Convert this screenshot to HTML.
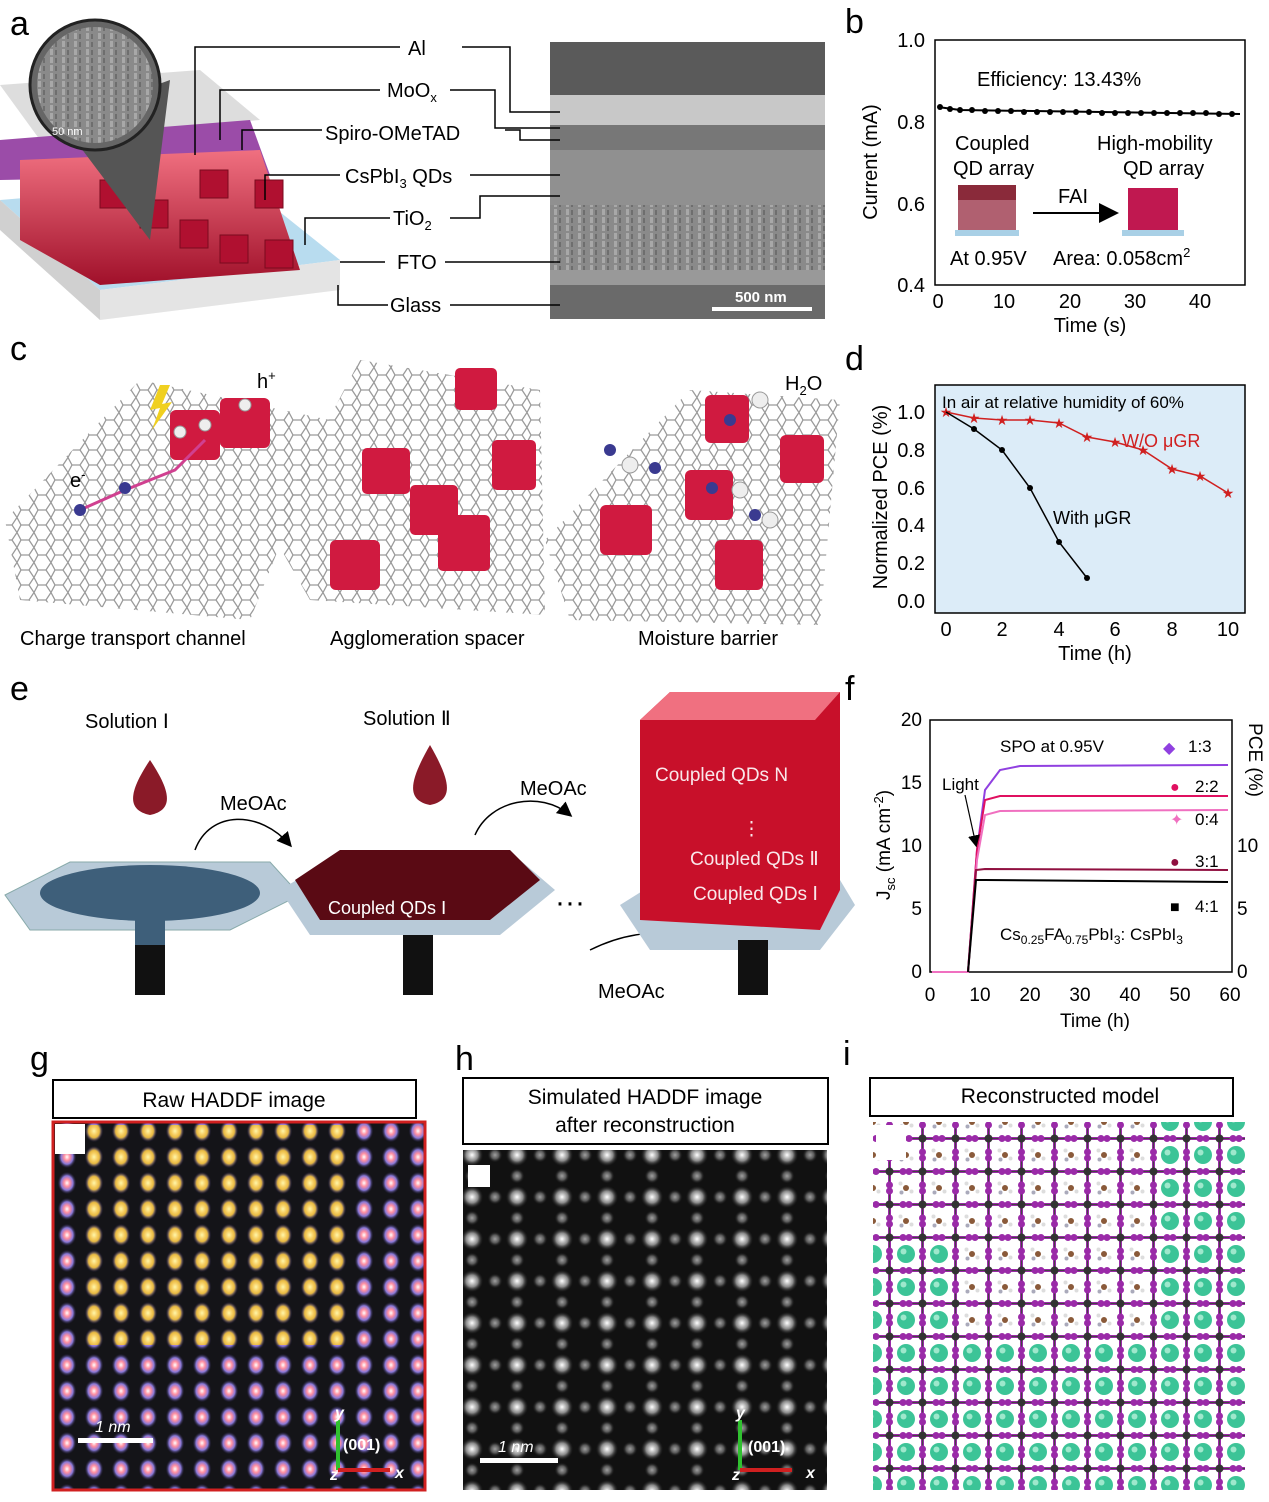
<!DOCTYPE html>
<html><head><meta charset="utf-8"><style>
html,body{margin:0;padding:0;background:#fff}
svg{display:block}
text{font-family:"Liberation Sans",sans-serif}
</style></head><body>
<svg width="1269" height="1502" viewBox="0 0 1269 1502" xmlns="http://www.w3.org/2000/svg">
<defs>
<pattern id="sem" width="12" height="8" patternUnits="userSpaceOnUse"><rect width="12" height="8" fill="#8a8a8a"/><rect x="2" y="1" width="3" height="6" fill="#a8a8a8"/><rect x="7" y="2" width="2" height="5" fill="#6e6e6e"/></pattern>
<pattern id="hex" width="17" height="15" patternUnits="userSpaceOnUse"><path d="M4 0 L12 0 L17 7.5 L12 15 L4 15 L0 7.5 Z" fill="none" stroke="#9a9a9a" stroke-width="1.3"/></pattern>
<radialGradient id="wd"><stop offset="0" stop-color="#fff"/><stop offset="0.5" stop-color="#888"/><stop offset="1" stop-color="#000" stop-opacity="0"/></radialGradient>
<pattern id="hpat" width="45" height="42" patternUnits="userSpaceOnUse"><rect width="45" height="42" fill="#111"/><circle cx="22" cy="21" r="12" fill="url(#wd)"/><circle cx="0" cy="21" r="8" fill="url(#wd)" opacity="0.6"/><circle cx="45" cy="21" r="8" fill="url(#wd)" opacity="0.6"/><circle cx="22" cy="0" r="8" fill="url(#wd)" opacity="0.6"/><circle cx="22" cy="42" r="8" fill="url(#wd)" opacity="0.6"/></pattern>
<radialGradient id="pd"><stop offset="0" stop-color="#fff"/><stop offset="0.3" stop-color="#ff8fa0"/><stop offset="0.6" stop-color="#8878d8"/><stop offset="1" stop-color="#000" stop-opacity="0"/></radialGradient>
<radialGradient id="yd"><stop offset="0" stop-color="#fff6a0"/><stop offset="0.6" stop-color="#f0c030"/><stop offset="1" stop-color="#000" stop-opacity="0"/></radialGradient>
<pattern id="gpat" width="27" height="26" patternUnits="userSpaceOnUse"><rect width="27" height="26" fill="#141418"/><ellipse cx="13" cy="13" rx="10" ry="12" fill="url(#pd)"/></pattern>
<pattern id="gy" width="27" height="26" patternUnits="userSpaceOnUse"><ellipse cx="13" cy="13" rx="9" ry="11" fill="url(#yd)"/></pattern>
<pattern id="ipat" width="33" height="33" patternUnits="userSpaceOnUse" x="873" y="1122"><rect width="33" height="33" fill="#fff"/><path d="M0 16.5H33M16.5 0V33" stroke="#9a2aa8" stroke-width="3"/><path d="M0 16.5H33M16.5 0V33" stroke="#444" stroke-width="1"/><circle cx="16.5" cy="16.5" r="4" fill="#333"/><circle cx="3" cy="16.5" r="3.5" fill="#9a2aa8"/><circle cx="16.5" cy="3" r="3.5" fill="#9a2aa8"/><circle cx="30" cy="16.5" r="3.5" fill="#9a2aa8"/><circle cx="16.5" cy="30" r="3.5" fill="#9a2aa8"/></pattern>
<pattern id="ball" width="33" height="33" patternUnits="userSpaceOnUse" x="889.5" y="1138.5"><circle cx="16.5" cy="16.5" r="9" fill="#3cc497"/><circle cx="14" cy="14" r="3" fill="#9ee8cc"/></pattern>
<pattern id="mol" width="33" height="33" patternUnits="userSpaceOnUse" x="889.5" y="1138.5"><circle cx="16.5" cy="16.5" r="3" fill="#8a5a3a"/><circle cx="11" cy="12" r="2" fill="#ddd"/><circle cx="22" cy="20" r="2" fill="#ddd"/><circle cx="12" cy="21" r="2" fill="#aab"/></pattern>
<clipPath id="ic"><rect x="873" y="1122" width="372" height="368"/></clipPath>
<linearGradient id="cube" x1="0" y1="0" x2="0" y2="1"><stop offset="0" stop-color="#f07080"/><stop offset="1" stop-color="#a0102a"/></linearGradient>
<marker id="ar" markerWidth="10" markerHeight="10" refX="8" refY="5" orient="auto"><path d="M0 0L10 5L0 10Z" fill="#000"/></marker>
</defs>

<!-- Panel a device -->
<polygon points="0,200 240,180 340,260 100,290" fill="#b8dcef"/>
<polygon points="0,200 100,290 100,320 0,230" fill="#d0d0d0"/>
<polygon points="100,290 340,260 340,290 100,320" fill="#e4e4e4"/>
<polygon points="0,85 200,70 260,120 40,140" fill="#ddd"/>
<polygon points="0,140 250,120 270,175 0,180" fill="#9b4ca8"/>
<polygon points="20,160 260,150 300,270 100,285 20,240" fill="url(#cube)"/>
<g fill="#b01030" stroke="#7a0a1e" stroke-width="1"><rect x="100" y="180" width="28" height="28"/><rect x="140" y="200" width="28" height="28"/><rect x="180" y="220" width="28" height="28"/><rect x="220" y="235" width="28" height="28"/><rect x="255" y="180" width="28" height="28"/><rect x="265" y="240" width="28" height="28"/><rect x="200" y="170" width="28" height="28"/></g>
<polygon points="60,120 170,80 150,240" fill="#555"/>
<circle cx="95" cy="85" r="65" fill="#666" stroke="#222" stroke-width="3"/>
<circle cx="95" cy="85" r="58" fill="url(#sem)"/>
<text x="52" y="135" font-size="11" fill="#fff">50 nm</text>
<!-- SEM -->
<rect x="550" y="42" width="275" height="277" fill="#5a5a5a"/>
<rect x="550" y="95" width="275" height="30" fill="#c8c8c8"/>
<rect x="550" y="125" width="275" height="25" fill="#777"/>
<rect x="550" y="150" width="275" height="55" fill="#909090"/>
<rect x="550" y="205" width="275" height="65" fill="url(#sem)"/>
<rect x="550" y="270" width="275" height="15" fill="#999"/>
<rect x="550" y="285" width="275" height="34" fill="#6a6a6a"/>
<rect x="712" y="307" width="100" height="4" fill="#fff"/>
<text x="735" y="302" font-size="15" font-weight="bold" fill="#fff">500 nm</text>
<g stroke="#000" stroke-width="1.5" fill="none">
<path d="M195 155V47H400M462 47H510V112H560"/>
<path d="M220 140V90H380M450 90H495V128H560"/>
<path d="M242 150V130H322M505 130H520V140H560"/>
<path d="M265 200V175H340M470 175H560"/>
<path d="M305 245V218H390M450 218H480V196H560"/>
<path d="M340 262H385M445 262H560"/>
<path d="M338 285V305H388M450 305H560"/>
</g>
<g font-size="20"><text x="408" y="55">Al</text><text x="387" y="97">MoO<tspan font-size="13" dy="5">x</tspan></text><text x="325" y="140">Spiro-OMeTAD</text><text x="345" y="183">CsPbI<tspan font-size="13" dy="5">3</tspan><tspan dy="-5"> QDs</tspan></text><text x="393" y="225">TiO<tspan font-size="13" dy="5">2</tspan></text><text x="397" y="269">FTO</text><text x="390" y="312">Glass</text></g>

<!-- Panel b -->
<rect x="935" y="40" width="310" height="245" fill="none" stroke="#000" stroke-width="1.5"/>
<g font-size="20" text-anchor="end"><text x="925" y="47">1.0</text><text x="925" y="129">0.8</text><text x="925" y="211">0.6</text><text x="925" y="292">0.4</text></g>
<g font-size="20" text-anchor="middle"><text x="938" y="308">0</text><text x="1004" y="308">10</text><text x="1070" y="308">20</text><text x="1135" y="308">30</text><text x="1200" y="308">40</text><text x="1090" y="332">Time (s)</text></g>
<text transform="translate(877,162) rotate(-90)" font-size="20" text-anchor="middle">Current (mA)</text>
<g stroke="#000"><path d="M938 107 L960 110 L1240 114" stroke-width="2" fill="none"/></g>
<g fill="#000"><circle cx="940" cy="107" r="3"/><circle cx="950" cy="109" r="3"/><circle cx="960" cy="110" r="3"/><circle cx="972" cy="110" r="3"/><circle cx="985" cy="111" r="3"/><circle cx="998" cy="111" r="3"/><circle cx="1011" cy="111" r="3"/><circle cx="1024" cy="112" r="3"/><circle cx="1037" cy="112" r="3"/><circle cx="1050" cy="112" r="3"/><circle cx="1063" cy="112" r="3"/><circle cx="1076" cy="112" r="3"/><circle cx="1089" cy="112" r="3"/><circle cx="1102" cy="113" r="3"/><circle cx="1115" cy="113" r="3"/><circle cx="1128" cy="113" r="3"/><circle cx="1141" cy="113" r="3"/><circle cx="1154" cy="113" r="3"/><circle cx="1167" cy="113" r="3"/><circle cx="1180" cy="113" r="3"/><circle cx="1193" cy="113" r="3"/><circle cx="1206" cy="113" r="3"/><circle cx="1219" cy="114" r="3"/><circle cx="1232" cy="114" r="3"/></g>
<g font-size="20"><text x="977" y="86">Efficiency: 13.43%</text><text x="955" y="150">Coupled</text><text x="953" y="175">QD array</text><text x="1097" y="150">High-mobility</text><text x="1123" y="175">QD array</text><text x="950" y="265">At 0.95V</text><text x="1053" y="265">Area: 0.058cm<tspan font-size="13" dy="-8">2</tspan></text><text x="1058" y="203">FAI</text></g>
<line x1="1033" y1="213" x2="1115" y2="213" stroke="#000" stroke-width="2" marker-end="url(#ar)"/>
<rect x="958" y="185" width="58" height="45" fill="#b06070"/><rect x="958" y="185" width="58" height="15" fill="#8a2a3a"/><rect x="955" y="230" width="64" height="6" fill="#a9d0e6"/>
<rect x="1128" y="188" width="50" height="42" fill="#c01850"/><rect x="1122" y="230" width="62" height="6" fill="#a9d0e6"/>

<!-- Panel c -->
<polygon points="5,520 140,380 330,420 250,620 20,600" fill="url(#hex)"/>
<polygon points="270,530 360,360 540,390 545,615 310,600" fill="url(#hex)"/>
<polygon points="545,540 690,390 840,400 820,625 570,620" fill="url(#hex)"/>
<g fill="#d01a40"><rect x="170" y="410" width="50" height="50" rx="6"/><rect x="220" y="398" width="50" height="50" rx="6"/><rect x="455" y="368" width="42" height="42" rx="5"/><rect x="362" y="448" width="48" height="46" rx="5"/><rect x="492" y="440" width="44" height="50" rx="5"/><rect x="410" y="485" width="48" height="50" rx="5"/><rect x="438" y="515" width="52" height="56" rx="5"/><rect x="330" y="540" width="50" height="50" rx="6"/><rect x="705" y="395" width="44" height="48" rx="6"/><rect x="780" y="435" width="44" height="48" rx="6"/><rect x="600" y="505" width="52" height="50" rx="6"/><rect x="685" y="470" width="48" height="50" rx="6"/><rect x="715" y="540" width="48" height="50" rx="6"/></g>
<path d="M80 510 L125 490 L175 470 L205 440" stroke="#d04090" stroke-width="3" fill="none"/>
<g fill="#3a3a90"><circle cx="80" cy="510" r="6"/><circle cx="125" cy="488" r="6"/><circle cx="655" cy="468" r="6"/><circle cx="610" cy="450" r="6"/><circle cx="730" cy="420" r="6"/><circle cx="712" cy="488" r="6"/><circle cx="755" cy="515" r="6"/></g>
<g fill="#eee" stroke="#999"><circle cx="180" cy="432" r="6"/><circle cx="205" cy="425" r="6"/><circle cx="245" cy="405" r="6"/><circle cx="630" cy="465" r="8"/><circle cx="760" cy="400" r="8"/><circle cx="740" cy="490" r="8"/><circle cx="770" cy="520" r="8"/></g>
<path d="M160 385 L150 410 L160 408 L152 430 L172 402 L162 404 L170 385Z" fill="#f0d020"/>
<g font-size="20"><text x="257" y="388">h<tspan font-size="13" dy="-8">+</tspan></text><text x="70" y="487">e<tspan font-size="13" dy="-8">-</tspan></text><text x="785" y="390">H<tspan font-size="13" dy="5">2</tspan><tspan dy="-5">O</tspan></text><text x="20" y="645">Charge transport channel</text><text x="330" y="645">Agglomeration spacer</text><text x="638" y="645">Moisture barrier</text></g>

<!-- Panel d -->
<rect x="935" y="385" width="310" height="228" fill="#dcecf8" stroke="#000" stroke-width="1.5"/>
<g font-size="20" text-anchor="end"><text x="925" y="419">1.0</text><text x="925" y="457">0.8</text><text x="925" y="495">0.6</text><text x="925" y="532">0.4</text><text x="925" y="570">0.2</text><text x="925" y="608">0.0</text></g>
<g font-size="20" text-anchor="middle"><text x="946" y="636">0</text><text x="1002" y="636">2</text><text x="1059" y="636">4</text><text x="1115" y="636">6</text><text x="1172" y="636">8</text><text x="1228" y="636">10</text><text x="1095" y="660">Time (h)</text></g>
<text transform="translate(887,497) rotate(-90)" font-size="20" text-anchor="middle">Normalized PCE (%)</text>
<text x="942" y="408" font-size="17">In air at relative humidity of 60%</text>
<text x="1122" y="447" font-size="18" fill="#d02020">W/O μGR</text>
<text x="1053" y="524" font-size="18">With μGR</text>
<polyline points="946,412 974,418 1002,420 1030,420 1059,423 1087,437 1115,442 1143,450 1172,469 1200,476 1228,493" fill="none" stroke="#d02020" stroke-width="1.5"/>
<g fill="#d02020" font-size="14" text-anchor="middle"><text x="946" y="417">★</text><text x="974" y="423">★</text><text x="1002" y="425">★</text><text x="1030" y="425">★</text><text x="1059" y="428">★</text><text x="1087" y="442">★</text><text x="1115" y="447">★</text><text x="1143" y="455">★</text><text x="1172" y="474">★</text><text x="1200" y="481">★</text><text x="1228" y="498">★</text></g>
<polyline points="946,412 974,429 1002,450 1030,488 1059,542 1087,578" fill="none" stroke="#000" stroke-width="1.5"/>
<g fill="#000"><circle cx="974" cy="429" r="3"/><circle cx="1002" cy="450" r="3"/><circle cx="1030" cy="488" r="3"/><circle cx="1059" cy="542" r="3"/><circle cx="1087" cy="578" r="3"/></g>

<!-- Panel e -->
<g font-size="20"><text x="85" y="728">Solution Ⅰ</text><text x="363" y="725">Solution Ⅱ</text><text x="220" y="810">MeOAc</text><text x="520" y="795">MeOAc</text><text x="598" y="998">MeOAc</text><text x="555" y="912" font-size="30">···</text></g>
<path d="M150 760 C130 790 125 810 150 815 C175 810 170 790 150 760Z" fill="#8a1a28"/>
<path d="M430 745 C410 780 405 800 430 805 C455 800 450 780 430 745Z" fill="#8a1a28"/>
<polygon points="5,895 70,862 270,862 300,895 230,930 30,930" fill="#b8cad8" stroke="#8aa" />
<ellipse cx="150" cy="893" rx="110" ry="28" fill="#3e5f7a"/>
<rect x="135" y="920" width="30" height="25" fill="#3e5f7a"/>
<rect x="135" y="945" width="30" height="50" fill="#111"/>
<polygon points="280,890 330,860 520,860 555,890 500,935 310,935" fill="#b8cad8"/>
<polygon points="295,880 340,850 510,850 540,880 490,920 320,920" fill="#5a0a14"/>
<text x="328" y="914" font-size="18" fill="#fff">Coupled QDs Ⅰ</text>
<rect x="403" y="935" width="30" height="60" fill="#111"/>
<path d="M195 850 C210 810 260 810 290 845" stroke="#000" stroke-width="1.5" fill="none" marker-end="url(#ar)"/>
<path d="M475 835 C490 800 540 790 570 815" stroke="#000" stroke-width="1.5" fill="none" marker-end="url(#ar)"/>
<path d="M590 950 C620 935 650 930 680 935" stroke="#000" stroke-width="1.5" fill="none" marker-end="url(#ar)"/>
<polygon points="620,905 660,880 840,880 855,905 820,950 650,950" fill="#b8cad8"/>
<polygon points="640,720 670,692 840,692 840,890 820,930 640,920" fill="#c8102a"/>
<polygon points="640,720 670,692 840,692 815,720" fill="#f07080"/>
<g fill="#fff" font-size="19" opacity="0.9"><text x="655" y="781">Coupled QDs N</text><text x="690" y="865">Coupled QDs Ⅱ</text><text x="693" y="900">Coupled QDs Ⅰ</text><text x="742" y="835">⋮</text></g>
<rect x="738" y="940" width="30" height="55" fill="#111"/>

<!-- Panel labels -->
<g font-size="34" fill="#000"><text x="10" y="35">a</text><text x="845" y="33">b</text><text x="10" y="360">c</text><text x="845" y="370">d</text><text x="10" y="700">e</text><text x="845" y="700">f</text><text x="30" y="1070">g</text><text x="455" y="1070">h</text><text x="843" y="1065">i</text></g>

<!-- Panel f -->
<rect x="930" y="720" width="302" height="252" fill="none" stroke="#000" stroke-width="1.5"/>
<g font-size="19" text-anchor="end"><text x="922" y="726">20</text><text x="922" y="789">15</text><text x="922" y="852">10</text><text x="922" y="915">5</text><text x="922" y="978">0</text></g>
<g font-size="19"><text x="1237" y="852">10</text><text x="1237" y="915">5</text><text x="1237" y="978">0</text></g>
<g font-size="19" text-anchor="middle"><text x="930" y="1001">0</text><text x="980" y="1001">10</text><text x="1030" y="1001">20</text><text x="1080" y="1001">30</text><text x="1130" y="1001">40</text><text x="1180" y="1001">50</text><text x="1230" y="1001">60</text><text x="1095" y="1027">Time (h)</text></g>
<text transform="translate(890,845) rotate(-90)" font-size="19" text-anchor="middle">J<tspan font-size="13" dy="5">sc</tspan><tspan dy="-5"> (mA cm</tspan><tspan font-size="13" dy="-7">-2</tspan><tspan dy="7">)</tspan></text>
<text transform="translate(1249,760) rotate(90)" font-size="19" text-anchor="middle">PCE (%)</text>
<polyline points="932,972 968,972 977,850 985,790 1000,770 1020,766 1228,765" fill="none" stroke="#9040e0" stroke-width="2"/>
<polyline points="932,972 968,972 977,850 985,800 1000,796 1228,796" fill="none" stroke="#e01060" stroke-width="2"/>
<polyline points="932,972 968,972 977,860 985,815 1000,811 1228,810" fill="none" stroke="#f070c0" stroke-width="2"/>
<polyline points="968,972 976,870 985,869 1228,870" fill="none" stroke="#901040" stroke-width="2"/>
<polyline points="968,972 976,880 985,880 1228,882" fill="none" stroke="#000" stroke-width="2"/>
<g font-size="17"><text x="1000" y="752">SPO at 0.95V</text><text x="942" y="790">Light</text><text x="1000" y="940">Cs<tspan font-size="12" dy="4">0.25</tspan><tspan dy="-4">FA</tspan><tspan font-size="12" dy="4">0.75</tspan><tspan dy="-4">PbI</tspan><tspan font-size="12" dy="4">3</tspan><tspan dy="-4">: CsPbI</tspan><tspan font-size="12" dy="4">3</tspan></text>
<text x="1188" y="752">1:3</text><text x="1195" y="792">2:2</text><text x="1195" y="825">0:4</text><text x="1195" y="867">3:1</text><text x="1195" y="912">4:1</text></g>
<g font-size="16"><text x="1163" y="753" fill="#9040e0">◆</text><text x="1170" y="792" fill="#e01060">●</text><text x="1170" y="825" fill="#f070c0">✦</text><text x="1170" y="867" fill="#901040">●</text><text x="1170" y="912">■</text></g>
<line x1="965" y1="795" x2="976" y2="845" stroke="#000" stroke-width="1.2" marker-end="url(#ar)"/>

<!-- Panel g -->
<rect x="53" y="1080" width="363" height="38" fill="#fff" stroke="#000" stroke-width="2"/>
<text x="234" y="1107" font-size="21" text-anchor="middle">Raw HADDF image</text>
<rect x="53" y="1122" width="372" height="368" fill="url(#gpat)" stroke="#d02020" stroke-width="3"/>
<rect x="85" y="1125" width="260" height="220" fill="url(#gy)" opacity="0.9"/>
<rect x="55" y="1124" width="30" height="30" fill="#fff"/>
<rect x="78" y="1438" width="75" height="5" fill="#fff"/>
<text x="95" y="1432" font-size="16" font-style="italic" fill="#fff">1 nm</text>
<line x1="338" y1="1470" x2="338" y2="1420" stroke="#30c030" stroke-width="4"/><line x1="338" y1="1470" x2="390" y2="1470" stroke="#d02020" stroke-width="4"/>
<g fill="#fff" font-size="16" font-weight="bold"><text x="343" y="1450">(001)</text><text x="335" y="1418" font-style="italic">y</text><text x="395" y="1478" font-style="italic">x</text><text x="330" y="1480" font-style="italic">z</text></g>

<!-- Panel h -->
<rect x="463" y="1078" width="365" height="66" fill="#fff" stroke="#000" stroke-width="2"/>
<text x="645" y="1104" font-size="21" text-anchor="middle">Simulated HADDF image</text>
<text x="645" y="1132" font-size="21" text-anchor="middle">after reconstruction</text>
<rect x="463" y="1150" width="364" height="340" fill="url(#hpat)"/>
<rect x="468" y="1165" width="22" height="22" fill="#fff"/>
<rect x="480" y="1458" width="78" height="5" fill="#fff"/>
<text x="498" y="1452" font-size="16" font-style="italic" fill="#fff">1 nm</text>
<line x1="740" y1="1470" x2="740" y2="1420" stroke="#30c030" stroke-width="4"/><line x1="740" y1="1470" x2="792" y2="1470" stroke="#d02020" stroke-width="4"/>
<g fill="#fff" font-size="16" font-weight="bold"><text x="748" y="1452">(001)</text><text x="736" y="1418" font-style="italic">y</text><text x="806" y="1478" font-style="italic">x</text><text x="732" y="1480" font-style="italic">z</text></g>

<!-- Panel i -->
<rect x="870" y="1078" width="363" height="38" fill="#fff" stroke="#000" stroke-width="2"/>
<text x="1060" y="1103" font-size="21" text-anchor="middle">Reconstructed model</text>
<rect x="873" y="1122" width="372" height="368" fill="url(#ipat)"/>
<g clip-path="url(#ic)">
<rect x="856.5" y="1105.5" width="297" height="132" fill="url(#mol)"/>
<rect x="955.5" y="1237.5" width="198" height="99" fill="url(#mol)"/>
<rect x="1153.5" y="1105.5" width="99" height="396" fill="url(#ball)"/>
<rect x="856.5" y="1237.5" width="99" height="99" fill="url(#ball)"/>
<rect x="856.5" y="1336.5" width="297" height="165" fill="url(#ball)"/>
</g>
<rect x="876" y="1125" width="30" height="35" fill="#fff"/>
</svg>
</body></html>
